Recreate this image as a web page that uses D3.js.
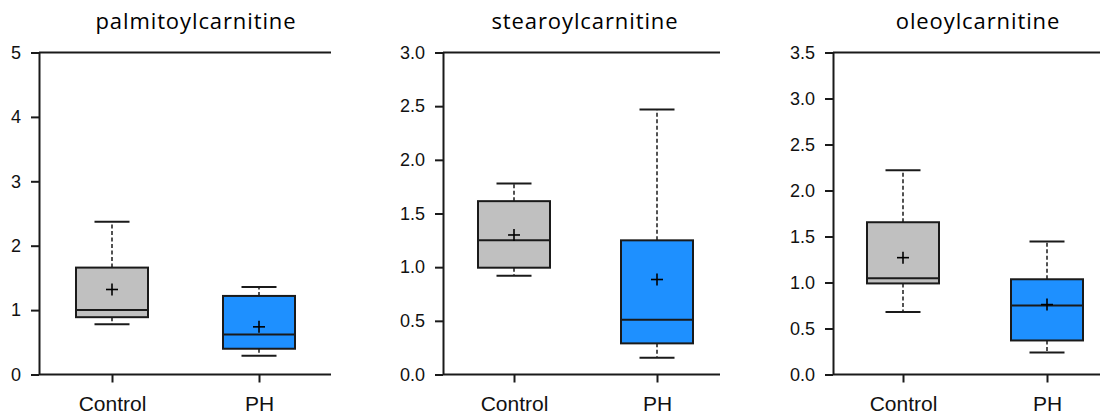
<!DOCTYPE html>
<html>
<head>
<meta charset="utf-8">
<script src="https://cdn.jsdelivr.net/npm/d3@7"></script>
<style>
  html, body { margin: 0; padding: 0; background: #ffffff; }
  svg { display: block; }
</style>
</head>
<body>
<svg id="chart" width="1100" height="415"></svg>
<script>
// ---- data ----
const categories = ["Control", "PH"];
const titles = ["palmitoylcarnitine", "stearoylcarnitine", "oleoylcarnitine"];
const whiskerLow  = [[0.78, 0.29], [0.92, 0.155], [0.68, 0.24]];
const q1Values    = [[0.89, 0.40], [0.995, 0.29], [0.99, 0.37]];
const medians     = [[1.00, 0.62], [1.25, 0.51], [1.045, 0.75]];
const q3Values    = [[1.66, 1.22], [1.615, 1.25], [1.655, 1.035]];
const whiskerHigh = [[2.37, 1.36], [1.78, 2.47], [2.22, 1.445]];
const means       = [[1.32, 0.74], [1.30, 0.885], [1.27, 0.76]];
const yMax = [5, 3, 3.5];
const yTicks = [
  [0, 1, 2, 3, 4, 5],
  [0, 0.5, 1.0, 1.5, 2.0, 2.5, 3.0],
  [0, 0.5, 1.0, 1.5, 2.0, 2.5, 3.0, 3.5]
];
const yTickLabels = [
  ["0", "1", "2", "3", "4", "5"],
  ["0.0", "0.5", "1.0", "1.5", "2.0", "2.5", "3.0"],
  ["0.0", "0.5", "1.0", "1.5", "2.0", "2.5", "3.0", "3.5"]
];
const boxColors = ["#c0c0c0", "#1e90ff"];

// ---- layout ----
const panels = [
  { axisX: 39,  rightX: 331,  c0: 112, c1: 259, titleX: 196 },
  { axisX: 443, rightX: 720,  c0: 514, c1: 657, titleX: 585 },
  { axisX: 833, rightX: 1100, c0: 903, c1: 1047, titleX: 978 }
];
const plotTop = 52.5, plotBottom = 374.5;
const boxW = 72, capW = 35, tickLen = 8;
const ink = "#1a1a1a";

const svg = d3.select("#chart");

panels.forEach((p, i) => {
  const g = svg.append("g");
  const y = d3.scaleLinear().domain([0, yMax[i]]).range([plotBottom, plotTop]);
  const x = d3.scalePoint().domain(categories).range([p.c0, p.c1]);

  // title
  g.append("text")
    .attr("x", p.titleX).attr("y", 29)
    .attr("text-anchor", "middle")
    .style("font-family", "'Open Sans', 'Noto Sans', sans-serif")
    .style("font-size", "22px")
    .style("letter-spacing", "0.9px")
    .attr("fill", "#000")
    .text(titles[i]);

  // y axis
  const yAxis = d3.axisLeft(y)
    .tickValues(yTicks[i])
    .tickFormat((d, k) => yTickLabels[i][k])
    .tickSize(tickLen).tickSizeOuter(0).tickPadding(10);
  const ya = g.append("g").attr("transform", `translate(${p.axisX},0)`).call(yAxis);
  ya.select(".domain").attr("stroke", ink).attr("stroke-width", 2);
  ya.selectAll(".tick line").attr("stroke", ink).attr("stroke-width", 2);
  ya.selectAll(".tick text")
    .style("font-family", "'Liberation Sans', Arial, sans-serif")
    .style("font-size", "18px").attr("fill", "#111");

  // top frame line and bottom axis line
  g.append("line").attr("x1", p.axisX).attr("x2", p.rightX)
    .attr("y1", plotTop).attr("y2", plotTop).attr("stroke", ink).attr("stroke-width", 2);
  g.append("line").attr("x1", p.axisX).attr("x2", p.rightX)
    .attr("y1", plotBottom).attr("y2", plotBottom).attr("stroke", ink).attr("stroke-width", 2);

  // x axis ticks and labels
  const xAxis = d3.axisBottom(x).tickSize(tickLen).tickSizeOuter(0).tickPadding(13.5);
  const xa = g.append("g").attr("transform", `translate(0,${plotBottom})`).call(xAxis);
  xa.select(".domain").remove();
  xa.selectAll(".tick line").attr("stroke", ink).attr("stroke-width", 2);
  xa.selectAll(".tick text")
    .style("font-family", "'Liberation Sans', Arial, sans-serif")
    .style("font-size", "21px").attr("fill", "#111");

  // boxes
  categories.forEach((c, j) => {
    const cx = x(c);
    const bg = g.append("g");
    // dashed whiskers
    bg.append("line").attr("x1", cx).attr("x2", cx)
      .attr("y1", y(q3Values[i][j])).attr("y2", y(whiskerHigh[i][j]))
      .attr("stroke", ink).attr("stroke-width", 1.5).attr("stroke-dasharray", "4,2.5");
    bg.append("line").attr("x1", cx).attr("x2", cx)
      .attr("y1", y(q1Values[i][j])).attr("y2", y(whiskerLow[i][j]))
      .attr("stroke", ink).attr("stroke-width", 1.5).attr("stroke-dasharray", "4,2.5");
    // caps
    [whiskerHigh[i][j], whiskerLow[i][j]].forEach(v => {
      bg.append("line").attr("x1", cx - capW / 2).attr("x2", cx + capW / 2)
        .attr("y1", y(v)).attr("y2", y(v))
        .attr("stroke", ink).attr("stroke-width", 2);
    });
    // box
    bg.append("rect")
      .attr("x", cx - boxW / 2).attr("width", boxW)
      .attr("y", y(q3Values[i][j])).attr("height", y(q1Values[i][j]) - y(q3Values[i][j]))
      .attr("fill", boxColors[j]).attr("stroke", ink).attr("stroke-width", 2);
    // median
    bg.append("line").attr("x1", cx - boxW / 2).attr("x2", cx + boxW / 2)
      .attr("y1", y(medians[i][j])).attr("y2", y(medians[i][j]))
      .attr("stroke", ink).attr("stroke-width", 2);
    // mean marker
    const my = y(means[i][j]);
    bg.append("line").attr("x1", cx - 6).attr("x2", cx + 6).attr("y1", my).attr("y2", my)
      .attr("stroke", "#000").attr("stroke-width", 1.6);
    bg.append("line").attr("x1", cx).attr("x2", cx).attr("y1", my - 6).attr("y2", my + 6)
      .attr("stroke", "#000").attr("stroke-width", 1.6);
  });
});
</script>
</body>
</html>
